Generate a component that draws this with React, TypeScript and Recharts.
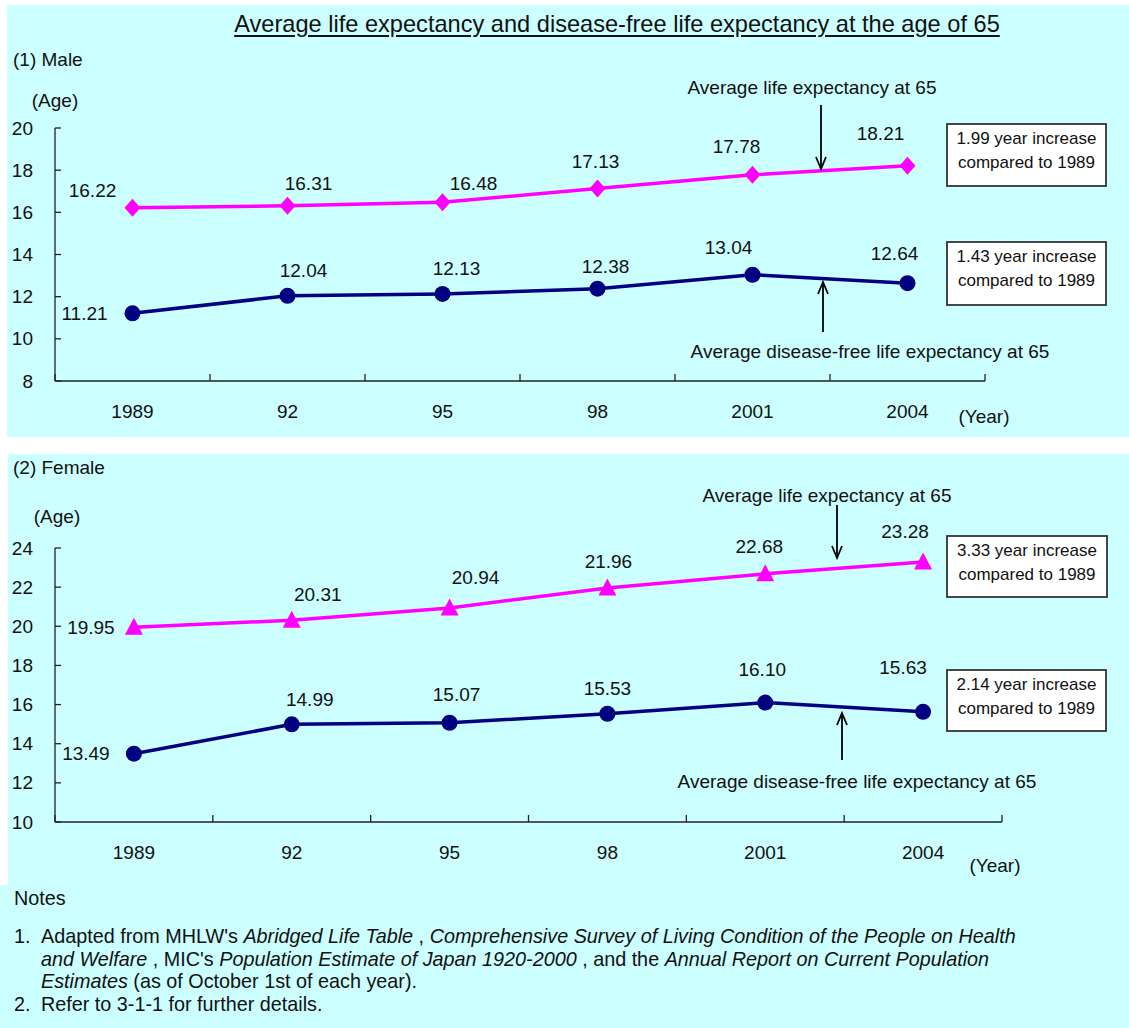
import { LineChart, Line, XAxis, YAxis, LabelList } from "recharts";

const years = ["1989", "92", "95", "98", "2001", "2004"];
const maleLife = [16.22, 16.31, 16.48, 17.13, 17.78, 18.21];
const maleHealthy = [11.21, 12.04, 12.13, 12.38, 13.04, 12.64];
const femaleLife = [19.95, 20.31, 20.94, 21.96, 22.68, 23.28];
const femaleHealthy = [13.49, 14.99, 15.07, 15.53, 16.1, 15.63];
const maleTicks = [8, 10, 12, 14, 16, 18, 20];
const femaleTicks = [10, 12, 14, 16, 18, 20, 22, 24];

// where each value label sits relative to its point (label centre)
const maleLifeOffsets = [[-40, -17], [21, -22], [31, -19], [-2, -27], [-16, -28], [-27, -32]];
const maleHealthyOffsets = [[-48, 0], [16, -25], [14, -25], [8, -22], [-24, -27], [-13, -30]];
const femaleLifeOffsets = [[-43, 0], [26, -26], [26, -30], [1, -26], [-6, -27], [-18, -31]];
const femaleHealthyOffsets = [[-48, 0], [18, -25], [7, -28], [0, -25], [-3, -33], [-20, -44]];

const FONT = "'Liberation Sans', Arial, sans-serif";
const BG = "#ccffff";
const PINK = "#ff00ff";
const NAVY = "#000080";
const AXIS = "#222";
const TEXT = "#111";

// band edges and centres on a numeric axis: edges at half steps, centres at integers
const xTicks = Array.from({ length: years.length * 2 + 1 }, (_, i) => i / 2 - 0.5);

const YTick = (props: any) => {
  const { x, y, payload } = props;
  return (
    <g>
      <line x1={x} x2={x + 6} y1={y} y2={y} stroke={AXIS} strokeWidth={1.3} />
      <text x={x - 22} y={y} textAnchor="end" dominantBaseline="central" fontSize={19} fill={TEXT} fontFamily={FONT}>
        {payload.value}
      </text>
    </g>
  );
};

const XTick = (props: any) => {
  const { x, y, payload } = props;
  const v = payload.value;
  if (Number.isInteger(v)) {
    return (
      <text x={x} y={y + 30} textAnchor="middle" dominantBaseline="central" fontSize={19} fill={TEXT} fontFamily={FONT}>
        {years[v]}
      </text>
    );
  }
  return <line x1={x} x2={x} y1={y} y2={y - 7} stroke={AXIS} strokeWidth={1.3} />;
};

const Diamond = ({ cx, cy }: any) => (
  <polygon points={`${cx},${cy - 9} ${cx + 8},${cy} ${cx},${cy + 9} ${cx - 8},${cy}`} fill={PINK} />
);
const Triangle = ({ cx, cy }: any) => (
  <polygon points={`${cx},${cy - 9.5} ${cx + 9},${cy + 7.5} ${cx - 9},${cy + 7.5}`} fill={PINK} />
);
const Circle = ({ cx, cy }: any) => <circle cx={cx} cy={cy} r={8} fill={NAVY} />;

const valueLabel = (offsets: number[][]) => (p: any) => {
  const [dx, dy] = offsets[p.index] || [0, -25];
  return (
    <text
      key={p.index}
      x={p.x + dx}
      y={p.y + dy}
      textAnchor="middle"
      dominantBaseline="central"
      fontSize={19}
      fill={TEXT}
      fontFamily={FONT}
    >
      {Number(p.value).toFixed(2)}
    </text>
  );
};

function LifeChart(props: {
  life: number[];
  healthy: number[];
  domain: [number, number];
  ticks: number[];
  height: number;
  top: number;
  right: number;
  bottom: number;
  lifeDot: (p: any) => any;
  lifeOffsets: number[][];
  healthyOffsets: number[][];
}) {
  const data = years.map((y, i) => ({ pos: i, year: y, life: props.life[i], healthy: props.healthy[i] }));
  const LifeDot = props.lifeDot;
  return (
    <LineChart
      width={1129}
      height={props.height}
      data={data}
      margin={{ top: props.top, right: props.right, left: 0, bottom: props.bottom }}
    >
      <XAxis
        dataKey="pos"
        type="number"
        domain={[-0.5, years.length - 0.5]}
        ticks={xTicks}
        interval={0}
        height={30}
        tickSize={0}
        tickMargin={0}
        tickLine={false}
        tick={<XTick />}
        axisLine={{ stroke: AXIS, strokeWidth: 1.3 }}
      />
      <YAxis
        type="number"
        domain={props.domain}
        ticks={props.ticks}
        interval={0}
        width={55}
        tickSize={0}
        tickMargin={0}
        tickLine={false}
        tick={<YTick />}
        axisLine={{ stroke: AXIS, strokeWidth: 1.3 }}
      />
      <Line
        type="linear"
        dataKey="life"
        stroke={PINK}
        strokeWidth={3.5}
        isAnimationActive={false}
        dot={(p: any) => <LifeDot key={`l${p.index}`} cx={p.cx} cy={p.cy} />}
      >
        <LabelList dataKey="life" content={valueLabel(props.lifeOffsets)} />
      </Line>
      <Line
        type="linear"
        dataKey="healthy"
        stroke={NAVY}
        strokeWidth={3.5}
        isAnimationActive={false}
        dot={(p: any) => <Circle key={`h${p.index}`} cx={p.cx} cy={p.cy} />}
      >
        <LabelList dataKey="healthy" content={valueLabel(props.healthyOffsets)} />
      </Line>
    </LineChart>
  );
}

const ArrowDown = ({ x, y1, y2 }: { x: number; y1: number; y2: number }) => (
  <g stroke="#000" strokeWidth={1.8} fill="none">
    <line x1={x} x2={x} y1={y1} y2={y2} />
    <polyline points={`${x - 5},${y2 - 12} ${x},${y2} ${x + 5},${y2 - 12}`} />
  </g>
);
const ArrowUp = ({ x, y1, y2 }: { x: number; y1: number; y2: number }) => (
  <g stroke="#000" strokeWidth={1.8} fill="none">
    <line x1={x} x2={x} y1={y1} y2={y2} />
    <polyline points={`${x - 5},${y2 + 12} ${x},${y2} ${x + 5},${y2 + 12}`} />
  </g>
);

const Box = ({ x1, y1, x2, y2, lines }: { x1: number; y1: number; x2: number; y2: number; lines: string[] }) => (
  <g>
    <rect x={x1} y={y1} width={x2 - x1} height={y2 - y1} fill="#fff" stroke="#333" strokeWidth={1.8} />
    {lines.map((t, i) => (
      <text
        key={i}
        x={(x1 + x2) / 2}
        y={y1 + 14 + i * 24.5}
        textAnchor="middle"
        dominantBaseline="central"
        fontSize={17}
        fill={TEXT}
      >
        {t}
      </text>
    ))}
  </g>
);

const T = ({ x, y, anchor = "middle", children }: any) => (
  <text x={x} y={y} textAnchor={anchor} dominantBaseline="central" fontSize={19} fill={TEXT}>
    {children}
  </text>
);

const noteLine: React.CSSProperties = {
  position: "absolute",
  fontSize: 19.8,
  lineHeight: "22px",
  whiteSpace: "nowrap",
  color: TEXT,
};

export default function App() {
  return (
    <div style={{ position: "absolute", left: 0, top: 0, width: 1129, height: 1028, background: "#fff", fontFamily: FONT, overflow: "hidden" }}>
      <div style={{ position: "absolute", left: 7, top: 5, width: 1122, height: 432, background: BG }} />
      <div style={{ position: "absolute", left: 8, top: 454, width: 1121, height: 431, background: BG }} />
      <div style={{ position: "absolute", left: 0, top: 885, width: 1129, height: 143, background: BG }} />

      <div
        style={{
          position: "absolute",
          left: 617,
          top: 11,
          transform: "translateX(-50%)",
          fontSize: 23.6,
          lineHeight: "26px",
          whiteSpace: "nowrap",
          textDecoration: "underline",
          textUnderlineOffset: 3,
          color: TEXT,
        }}
      >
        Average life expectancy and disease-free life expectancy at the age of 65
      </div>

      <div style={{ position: "absolute", left: 0, top: 0 }}>
        <LifeChart
          life={maleLife}
          healthy={maleHealthy}
          domain={[8, 20]}
          ticks={maleTicks}
          height={437}
          top={128}
          right={144}
          bottom={26}
          lifeDot={Diamond}
          lifeOffsets={maleLifeOffsets}
          healthyOffsets={maleHealthyOffsets}
        />
      </div>
      <div style={{ position: "absolute", left: 0, top: 454 }}>
        <LifeChart
          life={femaleLife}
          healthy={femaleHealthy}
          domain={[10, 24]}
          ticks={femaleTicks}
          height={420}
          top={94}
          right={127}
          bottom={22}
          lifeDot={Triangle}
          lifeOffsets={femaleLifeOffsets}
          healthyOffsets={femaleHealthyOffsets}
        />
      </div>

      <svg width={1129} height={1028} style={{ position: "absolute", left: 0, top: 0, pointerEvents: "none" }} fontFamily={FONT}>
        {/* male panel */}
        <T x={13} y={59} anchor="start">(1) Male</T>
        <T x={55} y={100}>(Age)</T>
        <T x={984} y={416}>(Year)</T>
        <T x={812} y={87}>Average life expectancy at 65</T>
        <ArrowDown x={821} y1={105} y2={169} />
        <T x={870} y={351}>Average disease-free life expectancy at 65</T>
        <ArrowUp x={823} y1={332} y2={282} />
        <Box x1={947} y1={124} x2={1106} y2={186} lines={["1.99 year increase", "compared to 1989"]} />
        <Box x1={947} y1={242} x2={1106} y2={305} lines={["1.43 year increase", "compared to 1989"]} />

        {/* female panel */}
        <T x={13} y={467} anchor="start">(2) Female</T>
        <T x={57} y={516}>(Age)</T>
        <T x={995} y={865}>(Year)</T>
        <T x={827} y={495}>Average life expectancy at 65</T>
        <ArrowDown x={837} y1={505} y2={558} />
        <T x={857} y={781}>Average disease-free life expectancy at 65</T>
        <ArrowUp x={842} y1={760} y2={713} />
        <Box x1={947} y1={536} x2={1107} y2={597} lines={["3.33 year increase", "compared to 1989"]} />
        <Box x1={947} y1={670} x2={1106} y2={731} lines={["2.14 year increase", "compared to 1989"]} />
      </svg>

      <div style={{ ...noteLine, left: 14, top: 887 }}>Notes</div>
      <div style={{ ...noteLine, left: 14, top: 925 }}>1.</div>
      <div style={{ ...noteLine, left: 41, top: 925 }}>
        Adapted from MHLW's <i>Abridged Life Table</i> , <i>Comprehensive Survey of Living Condition of the People on Health</i>
      </div>
      <div style={{ ...noteLine, left: 41, top: 948 }}>
        <i>and Welfare</i> , MIC's <i>Population Estimate of Japan 1920-2000</i> , and the <i>Annual Report on Current Population</i>
      </div>
      <div style={{ ...noteLine, left: 41, top: 970 }}>
        <i>Estimates</i> (as of October 1st of each year).
      </div>
      <div style={{ ...noteLine, left: 14, top: 993 }}>2.</div>
      <div style={{ ...noteLine, left: 41, top: 993 }}>Refer to 3-1-1 for further details.</div>
    </div>
  );
}
